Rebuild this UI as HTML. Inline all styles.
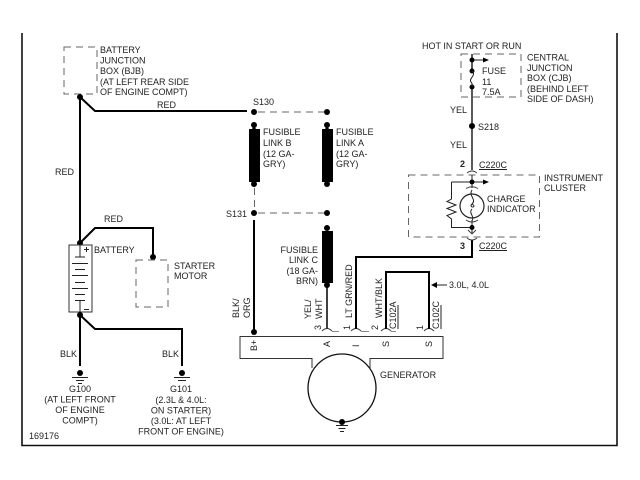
<!DOCTYPE html>
<html><head><meta charset="utf-8"><style>
html,body{margin:0;padding:0;background:#fff;width:640px;height:480px;overflow:hidden}
svg{display:block}
text{font-family:"Liberation Sans",sans-serif;font-size:9px;fill:#222}
.w{fill:none;stroke:#000;stroke-width:2}
.t{fill:none;stroke:#222;stroke-width:1}
.d{fill:none;stroke:#666;stroke-width:1;stroke-dasharray:7 5}
.a{fill:none;stroke:#333;stroke-width:.9}
</style></head><body>
<svg width="640" height="480" viewBox="0 0 640 480">
<path d="M22 33V445.5H617V33" fill="none" stroke="#111" stroke-width="1.6"/>

<!-- BJB -->
<rect x="64" y="47" width="33" height="47" class="d"/>
<path class="w" d="M80 97V245M80 97L95 111H247"/>
<circle cx="80" cy="97" r="3"/>
<path class="w" d="M80 243L95 228H153V257"/>
<circle cx="80" cy="243" r="3"/><circle cx="153" cy="257" r="3"/>
<g>
<text x="100" y="53">BATTERY</text><text x="100" y="63.5">JUNCTION</text><text x="100" y="74">BOX (BJB)</text><text x="100" y="85">(AT LEFT REAR SIDE</text><text x="100" y="95">OF ENGINE COMPT)</text>
<text x="157" y="108">RED</text><text x="55" y="175">RED</text><text x="104" y="222">RED</text>
</g>

<!-- Battery -->
<rect x="69" y="245" width="23" height="67" fill="#fff" stroke="#333"/>
<path class="t" d="M80 245V257M75 257H85M72 263.500H88M75 269.500H85M72 275.500H88M75 282.500H85M72 288.500H88M75 294.500H85M75 300.500H85M80 300V312"/>
<path class="t" d="M84 249.500H89M86.500 247V252M84 309.500H89"/>
<text x="94" y="253">BATTERY</text>
<rect x="136" y="260" width="32" height="47" class="d"/>
<text x="174" y="269">STARTER</text><text x="174" y="279">MOTOR</text>

<path class="w" d="M80 315V366M80 315L95 329H182V366"/>
<circle cx="80" cy="315" r="3"/>
<circle cx="80" cy="373" r="3"/><circle cx="182" cy="373" r="3"/>
<path class="t" d="M72 377.500H88M76 380.500H84M78 383.500H82M174 377.500H190M178 380.500H186"/>
<text x="60" y="357">BLK</text><text x="162" y="357">BLK</text>
<g text-anchor="middle">
<text x="80" y="392">G100</text><text x="80" y="402.500">(AT LEFT FRONT</text><text x="80" y="413">OF ENGINE</text><text x="80" y="423.500">COMPT)</text>
<text x="181" y="392">G101</text><text x="181" y="403">(2.3L &amp; 4.0L:</text><text x="181" y="413.500">ON STARTER)</text><text x="181" y="424">(3.0L: AT LEFT</text><text x="181" y="434.500">FRONT OF ENGINE)</text>
</g>
<text x="29" y="439">169176</text>

<!-- Fusible links -->
<circle cx="254" cy="112" r="3"/><circle cx="327" cy="112" r="3"/>
<path class="d" d="M258 112H324"/>
<text x="253" y="105">S130</text>
<circle cx="254" cy="125" r="3"/><circle cx="254" cy="184" r="3"/>
<circle cx="327" cy="125" r="3"/><circle cx="327" cy="184" r="3"/>
<rect x="249" y="129" width="11" height="53"/>
<rect x="322" y="129" width="11" height="53"/>
<path d="M252 129l2-3 2 3zM325 129l2-3 2 3z"/>
<path class="d" d="M254.500 188V210"/>
<circle cx="254" cy="213" r="3"/><circle cx="327" cy="213" r="3"/>
<path class="d" d="M258 213H324"/>
<text x="226" y="217">S131</text>
<path class="w" d="M254 220V332"/>
<circle cx="254" cy="332" r="3"/>
<circle cx="327" cy="228" r="3"/><circle cx="327" cy="285" r="3"/>
<rect x="322" y="231" width="11" height="52"/>
<path class="w" style="stroke-width:1.500" d="M327 285V329"/>
<text x="263" y="135">FUSIBLE</text><text x="263" y="146">LINK B</text><text x="263" y="157">(12 GA-</text><text x="263" y="167">GRY)</text>
<text x="336" y="135">FUSIBLE</text><text x="336" y="146">LINK A</text><text x="336" y="157">(12 GA-</text><text x="336" y="167">GRY)</text>
<g text-anchor="end">
<text x="318" y="253">FUSIBLE</text><text x="318" y="263">LINK C</text><text x="318" y="274">(18 GA-</text><text x="318" y="284">BRN)</text>
</g>

<!-- Generator -->
<path fill="none" stroke="#333" d="M312 368V358.500H240V336.500H443V358.500H370V368"/>
<circle cx="342" cy="388" r="34" fill="none" stroke="#111" stroke-width="1.300"/>
<circle cx="342" cy="422" r="3"/>
<path class="t" d="M336 425.500H348M338.500 428.500H345.500M340 431.500H344"/>
<text x="380" y="378">GENERATOR</text>

<g transform="translate(257,351) rotate(-90)"><text>B+</text></g>
<g transform="translate(330,347) rotate(-90)"><text>A</text></g>
<g transform="translate(359,347) rotate(-90)"><text>I</text></g>
<g transform="translate(389,347) rotate(-90)"><text>S</text></g>
<g transform="translate(432,347) rotate(-90)"><text>S</text></g>

<!-- Connector pins -->
<path class="a" d="M322 331Q327 326 332 331M351 331Q356 326 361 331M381 331Q386 326 391 331M424 331Q429 326 434 331"/>
<path d="M332 331.500H339M361 331.500H369M391 331.500H396" stroke="#888" fill="none"/>

<!-- Wires -->
<path class="w" d="M356 329V257H472V240"/>
<path class="w" d="M386 329V272H429V329"/>
<path class="t" d="M436 285H447"/><path d="M431 285l6-3v6z"/>
<text x="449" y="288">3.0L, 4.0L</text>

<g transform="translate(239,318) rotate(-90)"><text>BLK/</text></g>
<g transform="translate(250,318) rotate(-90)"><text>ORG</text></g>
<g transform="translate(311,319) rotate(-90)"><text>YEL/</text></g>
<g transform="translate(322,319) rotate(-90)"><text>WHT</text></g>
<g transform="translate(321,330) rotate(-90)"><text>3</text></g>
<g transform="translate(350,330) rotate(-90)"><text>1</text></g>
<g transform="translate(352,318) rotate(-90)"><text>LT GRN/RED</text></g>
<g transform="translate(378,330) rotate(-90)"><text>2</text></g>
<g transform="translate(382,318) rotate(-90)"><text>WHT/BLK</text></g>
<g transform="translate(396,329) rotate(-90)"><text>C102A</text></g>
<path class="t" d="M398 305V329"/>
<g transform="translate(423,330) rotate(-90)"><text>1</text></g>
<g transform="translate(439,329) rotate(-90)"><text>C102C</text></g>
<path class="t" d="M441 305V329"/>

<!-- CJB -->
<text x="422" y="49">HOT IN START OR RUN</text>
<rect x="461" y="54" width="60" height="43" class="d"/>
<path class="w" style="stroke-width:1.300" d="M472 54V71M472 87V170"/>
<path class="t" d="M472 60H484"/><path d="M489 60l-6-2.500v5z"/>
<circle cx="472" cy="60" r="2.500"/><circle cx="472" cy="71" r="2.500"/><circle cx="472" cy="87" r="2.500"/>
<path class="t" d="M472 71C477 75 468 79 471 82C473 84 472 85 472 87"/>
<text x="482" y="74">FUSE</text><text x="482" y="85">11</text><text x="482" y="95">7.5A</text>
<text x="527" y="60.500">CENTRAL</text><text x="527" y="71">JUNCTION</text><text x="527" y="81">BOX (CJB)</text><text x="527" y="92">(BEHIND LEFT</text><text x="527" y="102">SIDE OF DASH)</text>
<text x="450" y="113">YEL</text>
<circle cx="472" cy="126" r="3"/>
<text x="478" y="130">S218</text>
<text x="450" y="148">YEL</text>

<!-- Instrument cluster -->
<text x="460" y="167" style="font-weight:bold">2</text>
<text x="479" y="168">C220C</text><path class="t" d="M479 169.500H507"/>
<path class="a" d="M467 173Q472 169 477 173"/>
<rect x="408.500" y="175" width="131" height="62" class="d"/>
<path class="t" d="M472 175V188M451.500 182H484M451.500 182V199L447 201.500 456 205 447 208.500 456 212 447 215.500 451.500 219V227.500H472M472 220V233"/>
<path d="M489 182l-6-2.500v5z"/>
<circle cx="472" cy="182" r="2.500"/><circle cx="472" cy="227.500" r="2.500"/>
<circle cx="472" cy="206" r="12" fill="none" stroke="#222" stroke-width="1.200"/>
<path class="a" d="M466 188.500Q472 185 478 188.500M466 220Q472 224 478 220"/>
<path class="t" d="M472 190C468 196 477 199 472 204C468 208 478 208 472 204M472 209C468 213 475 216 472 221"/>
<path class="a" d="M468 230L472 234 476 230"/>
<path class="a" d="M467 238Q472 242 477 238"/>
<text x="487" y="202">CHARGE</text><text x="487" y="212">INDICATOR</text>
<text x="544" y="181">INSTRUMENT</text><text x="544" y="191">CLUSTER</text>
<text x="460" y="249" style="font-weight:bold">3</text>
<text x="479" y="249">C220C</text><path class="t" d="M479 250.500H507"/>
</svg>
</body></html>
